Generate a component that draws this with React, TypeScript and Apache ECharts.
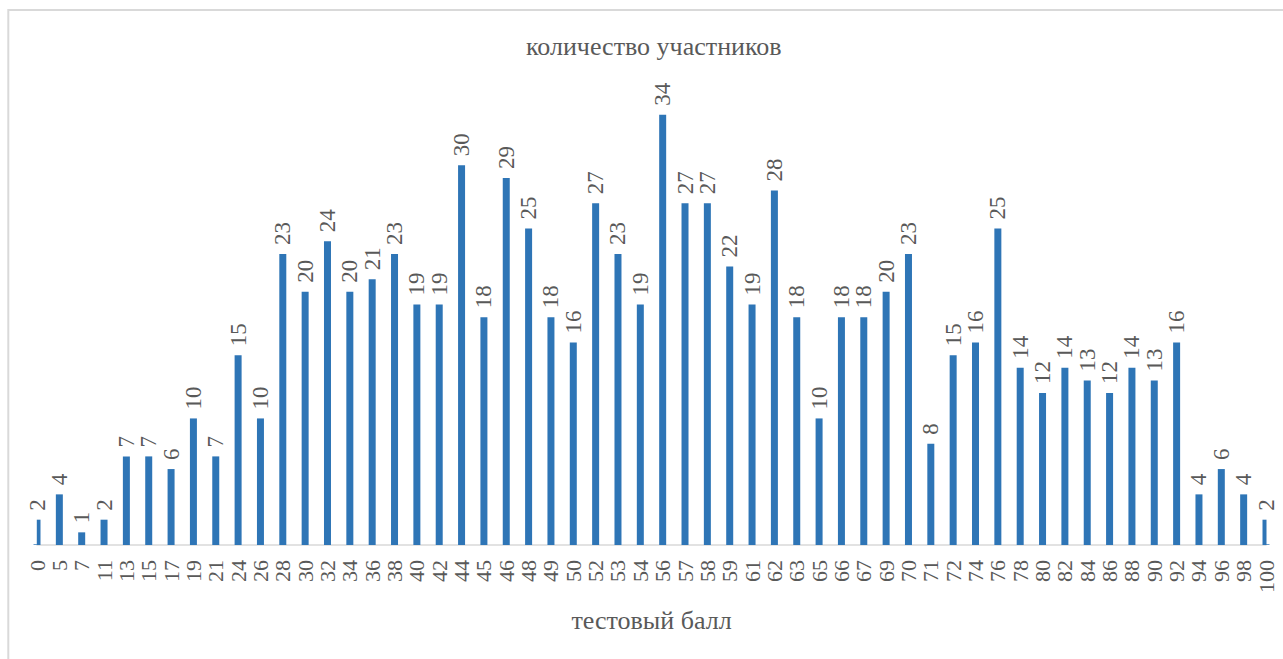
import React, { useEffect, useRef } from "react";
import * as echarts from "echarts";

const categories = ["0","5","7","11","13","15","17","19","21","24","26","28","30","32","34","36","38","40","42","44","45","46","48","49","50","52","53","54","56","57","58","59","61","62","63","65","66","67","69","70","71","72","74","76","78","80","82","84","86","88","90","92","94","96","98","100"];
const participants = [2,4,1,2,7,7,6,10,7,15,10,23,20,24,20,21,23,19,19,30,18,29,25,18,16,27,23,19,34,27,27,22,19,28,18,10,18,18,20,23,8,15,16,25,14,12,14,13,12,14,13,16,4,6,4,2];
const titleText = "количество участников";
const xAxisName = "тестовый балл";

const FONT = "Liberation Serif";
const TEXT = "#595959";

export default function App() {
  const ref = useRef<HTMLDivElement>(null);
  useEffect(() => {
    if (!ref.current) return;
    const chart = echarts.init(ref.current, undefined, { renderer: "svg" });
    chart.setOption({
      animation: false,
      backgroundColor: "#ffffff",
      textStyle: { fontFamily: FONT },
      title: {
        text: titleText,
        left: 521,
        top: 28,
        textStyle: { fontFamily: FONT, fontSize: 26, fontWeight: "normal", color: TEXT },
      },
      graphic: [
        {
          type: "rect",
          z: 100,
          shape: { x: 20, y: 516, width: 16.8, height: 28.3 },
          style: { fill: "#ffffff" },
          silent: true,
        },
        {
          type: "rect",
          z: 100,
          shape: { x: 1266.5, y: 516, width: 30, height: 28.3 },
          style: { fill: "#ffffff" },
          silent: true,
        },
        {
          type: "rect",
          z: 101,
          shape: { x: 8.3, y: 10, width: 1400, height: 800 },
          style: { fill: "none", stroke: "#d9d9d9", lineWidth: 2 },
          silent: true,
        },
      ],
      grid: { left: 37, right: 17, top: 102, bottom: 114, containLabel: false },
      xAxis: {
        type: "category",
        data: categories,
        boundaryGap: false,
        name: xAxisName,
        nameLocation: "middle",
        nameGap: 62,
        nameTextStyle: { fontFamily: FONT, fontSize: 26, color: TEXT },
        axisLine: { lineStyle: { color: "#d9d9d9", width: 1.5 } },
        axisTick: { show: false },
        axisLabel: {
          interval: 0,
          rotate: 90,
          margin: 15,
          fontFamily: FONT,
          fontSize: 22,
          color: TEXT,
        },
        splitLine: { show: false },
      },
      yAxis: {
        type: "value",
        min: 0,
        max: 35,
        show: false,
        splitLine: { show: false },
      },
      series: [
        {
          type: "bar",
          data: participants,
          barWidth: 7,
          clip: true,
          itemStyle: { color: "#2e75b6" },
          label: {
            show: true,
            position: "top",
            rotate: 90,
            align: "left",
            verticalAlign: "middle",
            distance: 9,
            fontFamily: FONT,
            fontSize: 23,
            color: TEXT,
          },
        },
      ],
    });
    return () => chart.dispose();
  }, []);
  return (
    <div
      ref={ref}
      style={{ position: "fixed", left: 0, top: 0, width: 1283, height: 659 }}
    />
  );
}
